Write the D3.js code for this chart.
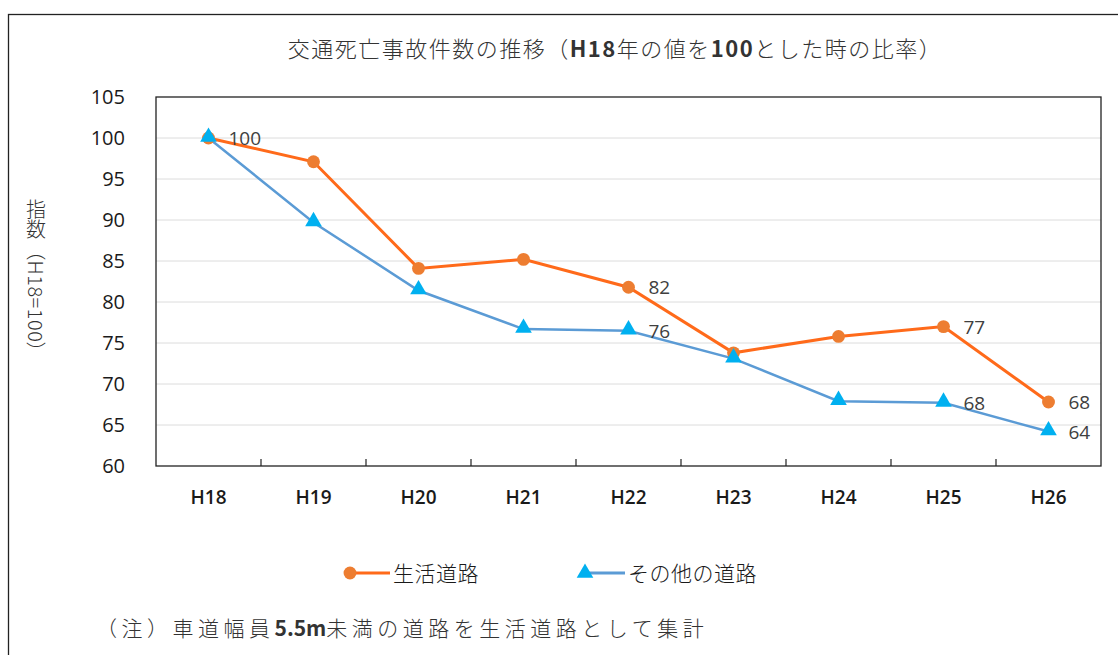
<!DOCTYPE html>
<html>
<head>
<meta charset="utf-8">
<script src="https://cdn.jsdelivr.net/npm/d3@7/dist/d3.min.js"></script>
<style>
  body { margin: 0; background: #fff; }
  svg { display: block; }
  text { fill: #333; font-family: "Noto Sans", "Noto Sans CJK JP", sans-serif; }
  .jp { font-family: "Noto Sans CJK JP", sans-serif; }
</style>
</head>
<body>
<div id="chart"></div>
<script>
// data
var years = ["H18", "H19", "H20", "H21", "H22", "H23", "H24", "H25", "H26"];
var seikatsu = [100, 97.1, 84.1, 85.2, 81.8, 73.8, 75.8, 77.0, 67.8];
var sonota = [100, 89.7, 81.4, 76.7, 76.5, 73.1, 67.9, 67.7, 64.2];
var seikatsuLabels = [["H18", "100"], ["H22", "82"], ["H25", "77"], ["H26", "68"]];
var sonotaLabels = [["H22", "76"], ["H25", "68"], ["H26", "64"]];
var yTicks = [60, 65, 70, 75, 80, 85, 90, 95, 100, 105];

var width = 1118, height = 655;
var plot = { left: 156, top: 97, right: 1101, bottom: 466 };

var orangeLine = "#ff6a1a", orangeDot = "#ed7d31";
var blueLine = "#5b9bd5", blueTri = "#00b0f0";

var svg = d3.select("#chart").append("svg")
    .attr("width", width)
    .attr("height", height);

// outer frame
svg.append("rect")
    .attr("x", 8.5).attr("y", 14.5)
    .attr("width", 1130).attr("height", 660)
    .attr("fill", "none").attr("stroke", "#222").attr("stroke-width", 1.3);

var x = d3.scaleBand().domain(years).range([plot.left, plot.right]);
var y = d3.scaleLinear().domain([60, 105]).range([plot.bottom, plot.top]);
var cx = function(d) { return x(d) + x.bandwidth() / 2; };

// gridlines
svg.append("g")
    .selectAll("line")
    .data(yTicks.slice(1, -1))
    .enter().append("line")
    .attr("x1", plot.left).attr("x2", plot.right)
    .attr("y1", function(d) { return y(d); })
    .attr("y2", function(d) { return y(d); })
    .attr("stroke", "#dcdcdc").attr("stroke-width", 1);

// plot border
svg.append("rect")
    .attr("x", plot.left).attr("y", plot.top)
    .attr("width", plot.right - plot.left).attr("height", plot.bottom - plot.top)
    .attr("fill", "none").attr("stroke", "#222").attr("stroke-width", 1.3);

// y axis labels
var yAxis = d3.axisLeft(y).tickValues(yTicks).tickSize(0).tickPadding(31);
var ya = svg.append("g").attr("transform", "translate(" + plot.left + ",0)").call(yAxis);
ya.select(".domain").remove();
ya.selectAll("text")
    .style("font-size", "20px")
    .style("fill", "#1a1a1a")
    .style("font-family", "'Open Sans', sans-serif");

// x axis
var xa = svg.append("g").attr("transform", "translate(0," + plot.bottom + ")")
    .call(d3.axisBottom(x).tickSize(0).tickPadding(25));
xa.select(".domain").remove();
xa.selectAll("text")
    .style("font-size", "19px")
    .style("font-weight", 600)
    .style("fill", "#1a1a1a")
    .style("font-family", "'Open Sans', sans-serif");

// category boundary ticks pointing up
svg.append("g")
    .selectAll("line")
    .data(years.slice(1))
    .enter().append("line")
    .attr("x1", function(d) { return x(d); })
    .attr("x2", function(d) { return x(d); })
    .attr("y1", plot.bottom).attr("y2", plot.bottom - 7)
    .attr("stroke", "#222").attr("stroke-width", 1.2);

// lines
var line = d3.line()
    .x(function(d, i) { return cx(years[i]); })
    .y(function(d) { return y(d); });

svg.append("path").datum(sonota)
    .attr("d", line)
    .attr("fill", "none").attr("stroke", blueLine).attr("stroke-width", 2.5);

svg.append("path").datum(seikatsu)
    .attr("d", line)
    .attr("fill", "none").attr("stroke", orangeLine).attr("stroke-width", 3);

var circle = d3.symbol().type(d3.symbolCircle).size(130);
var tri = d3.symbol().type(d3.symbolTriangle).size(120);

svg.append("g").selectAll("path")
    .data(seikatsu)
    .enter().append("path")
    .attr("d", circle)
    .attr("transform", function(d, i) { return "translate(" + cx(years[i]) + "," + y(d) + ")"; })
    .attr("fill", orangeDot);

svg.append("g").selectAll("path")
    .data(sonota)
    .enter().append("path")
    .attr("d", tri)
    .attr("transform", function(d, i) { return "translate(" + cx(years[i]) + "," + (y(d) - 1) + ")"; })
    .attr("fill", blueTri);

// data labels
function valueOf(series, yr) { return series[years.indexOf(yr)]; }

svg.append("g").selectAll("text")
    .data(seikatsuLabels)
    .enter().append("text")
    .attr("x", function(d) { return cx(d[0]) + 20; })
    .attr("y", function(d) { return y(valueOf(seikatsu, d[0])) + 7; })
    .style("font-size", "19px")
    .style("font-family", "'Open Sans', sans-serif")
    .style("fill", "#404040")
    .text(function(d) { return d[1]; });

svg.append("g").selectAll("text")
    .data(sonotaLabels)
    .enter().append("text")
    .attr("x", function(d) { return cx(d[0]) + 20; })
    .attr("y", function(d) { return y(valueOf(sonota, d[0])) + 7; })
    .style("font-size", "19px")
    .style("font-family", "'Open Sans', sans-serif")
    .style("fill", "#404040")
    .text(function(d) { return d[1]; });

// title
var title = svg.append("text")
    .attr("class", "jp")
    .attr("x", 615).attr("y", 57)
    .attr("text-anchor", "middle")
    .style("font-size", "22px")
    .style("letter-spacing", "1.5px")
    .style("font-weight", 300);
title.append("tspan").text("交通死亡事故件数の推移（");
title.append("tspan").style("font-weight", "bold").text("H18");
title.append("tspan").text("年の値を");
title.append("tspan").style("font-weight", "bold").text("100");
title.append("tspan").text("とした時の比率）");

// y axis title, vertical
svg.append("text")
    .attr("class", "jp")
    .attr("x", 36).attr("y", 199)
    .style("writing-mode", "vertical-rl")
    .style("font-size", "20px")
    .style("letter-spacing", "0.5px")
    .style("font-weight", 300)
    .text("指数（H18=100）");

// legend
var legend = [
    { name: "生活道路", color: orangeLine, mark: orangeDot, sym: circle, x: 350 },
    { name: "その他の道路", color: blueLine, mark: blueTri, sym: tri, x: 585 }
];
var lg = svg.append("g").selectAll("g")
    .data(legend)
    .enter().append("g")
    .attr("transform", function(d) { return "translate(" + d.x + ",573)"; });
lg.append("line")
    .attr("x1", 0).attr("x2", 40)
    .attr("stroke", function(d) { return d.color; })
    .attr("stroke-width", 3);
lg.append("path")
    .attr("d", function(d) { return d.sym(); })
    .attr("fill", function(d) { return d.mark; });
lg.append("text")
    .attr("class", "jp")
    .attr("x", 43).attr("y", 8)
    .style("font-size", "21px")
    .style("letter-spacing", "0.5px")
    .style("font-weight", 300)
    .style("fill", "#1a1a1a")
    .text(function(d) { return d.name; });

// note
var note = svg.append("text")
    .attr("class", "jp")
    .attr("x", 96).attr("y", 636)
    .style("font-size", "21px")
    .style("letter-spacing", "4.5px")
    .style("font-weight", 300);
note.append("tspan").text("（注）車道幅員");
note.append("tspan").style("font-weight", "bold").style("letter-spacing", "0px").text("5.5m");
note.append("tspan").text("未満の道路を生活道路として集計");
</script>
</body>
</html>
